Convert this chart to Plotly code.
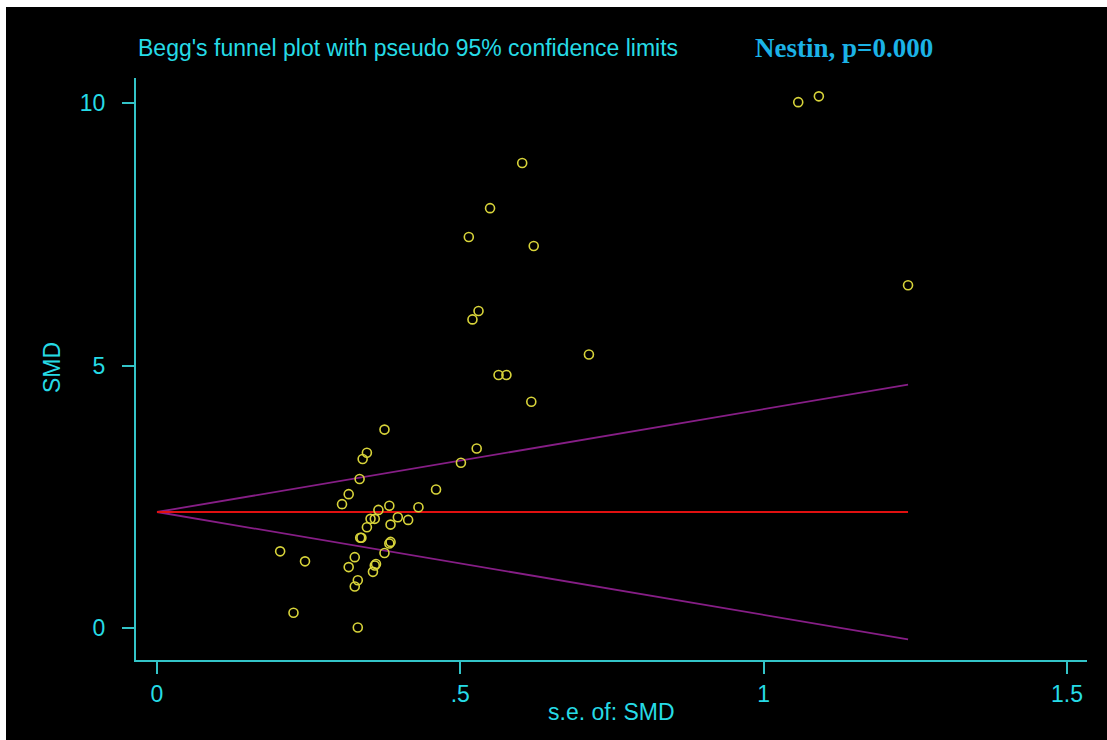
import plotly.graph_objects as go

# ---- data ----
se = [1.057, 1.091, 1.238, 0.602, 0.549, 0.514, 0.621, 0.530, 0.520, 0.712,
      0.563, 0.576, 0.617,
      0.375, 0.346, 0.339, 0.527, 0.501, 0.334, 0.460, 0.316, 0.305, 0.365,
      0.383, 0.431, 0.352, 0.359, 0.397, 0.414, 0.385, 0.346, 0.335, 0.337,
      0.385, 0.383, 0.203, 0.375, 0.244, 0.326, 0.316, 0.361, 0.359, 0.356,
      0.331, 0.326, 0.225, 0.331]
smd = [10.02, 10.13, 6.53, 8.86, 8.00, 7.45, 7.28, 6.04, 5.88, 5.21,
       4.82, 4.82, 4.31,
       3.78, 3.34, 3.22, 3.42, 3.15, 2.84, 2.64, 2.55, 2.36, 2.25,
       2.33, 2.30, 2.08, 2.08, 2.11, 2.06, 1.97, 1.92, 1.72, 1.72,
       1.64, 1.61, 1.46, 1.43, 1.27, 1.35, 1.16, 1.22, 1.19, 1.07,
       0.91, 0.79, 0.29, 0.01]
pooled_smd = 2.21
z95 = 1.96

x_tick_vals = [0, 0.5, 1, 1.5]
x_tick_text = ["0", ".5", "1", "1.5"]
y_tick_vals = [0, 5, 10]
y_tick_text = ["0", "5", "10"]

title_text = "Begg's funnel plot with pseudo 95% confidence limits"
note_text = "Nestin, p=0.000"
x_title = "s.e. of: SMD"
y_title = "SMD"

# ---- styling ----
W, H = 1107, 740
L, R, T, B = 136, 20, 78, 80
CYAN = "#26dbe6"
AXIS = "#33c4c8"
NOTE = "#1bb2e6"
YELLOW = "#d8d43a"
PURPLE = "#861e86"
RED = "#e01010"
FONT = "Liberation Sans, Arial, sans-serif"

pw, ph = W - L - R, H - T - B


def px_x(p):
    return (p - L) / pw


def px_y(p):
    return (H - B - p) / ph


se_line = [0, max(se)]

fig = go.Figure()
fig.add_trace(go.Scatter(x=se_line, y=[pooled_smd + z95 * s for s in se_line],
                         mode="lines", line=dict(color=PURPLE, width=1.8),
                         hoverinfo="skip"))
fig.add_trace(go.Scatter(x=se_line, y=[pooled_smd - z95 * s for s in se_line],
                         mode="lines", line=dict(color=PURPLE, width=1.8),
                         hoverinfo="skip"))
fig.add_trace(go.Scatter(x=se_line, y=[pooled_smd for s in se_line],
                         mode="lines", line=dict(color=RED, width=1.8),
                         hoverinfo="skip"))
fig.add_trace(go.Scatter(x=se, y=smd, mode="markers",
                         marker=dict(symbol="circle-open", size=9,
                                     color=YELLOW, line=dict(width=1.6, color=YELLOW))))

fig.update_layout(
    width=W, height=H,
    margin=dict(l=L, r=R, t=T, b=B, pad=0),
    paper_bgcolor="black",
    plot_bgcolor="black",
    showlegend=False,
    font=dict(family=FONT, color=CYAN, size=23),
    shapes=[
        # thin white frame strips at the top and left edges of the picture
        dict(type="rect", xref="paper", yref="paper",
             x0=px_x(-10), x1=px_x(W + 10), y0=px_y(7), y1=px_y(-10),
             fillcolor="white", line=dict(width=0), layer="below"),
        dict(type="rect", xref="paper", yref="paper",
             x0=px_x(-10), x1=px_x(6), y0=px_y(H + 10), y1=px_y(-10),
             fillcolor="white", line=dict(width=0), layer="below"),
    ],
    annotations=[
        dict(text=title_text, xref="paper", yref="paper", x=px_x(136), y=px_y(48),
             xanchor="left", yanchor="middle", showarrow=False,
             font=dict(family=FONT, size=23, color=CYAN)),
        dict(text="<b>" + note_text + "</b>", xref="paper", yref="paper",
             x=px_x(844), y=px_y(48), xanchor="center", yanchor="middle",
             showarrow=False,
             font=dict(family="Liberation Serif, Times New Roman, serif", size=27, color=NOTE)),
        dict(text=x_title, xref="paper", yref="paper", x=px_x(611), y=px_y(712),
             xanchor="center", yanchor="middle", showarrow=False,
             font=dict(family=FONT, size=23, color=CYAN)),
        dict(text=y_title, xref="paper", yref="paper", x=px_x(52), y=px_y(368),
             xanchor="center", yanchor="middle", showarrow=False, textangle=-90,
             font=dict(family=FONT, size=23, color=CYAN)),
    ],
)

fig.update_xaxes(range=[-0.0346, 1.533], tickvals=x_tick_vals, ticktext=x_tick_text,
                 showgrid=False, zeroline=False, showline=True, linecolor=AXIS,
                 linewidth=2, mirror=False, ticks="outside", ticklen=12, tickwidth=2,
                 tickcolor=AXIS, tickfont=dict(family=FONT, size=23, color=CYAN))
fig.update_yaxes(range=[-0.61, 10.48], tickvals=y_tick_vals, ticktext=y_tick_text,
                 showgrid=False, zeroline=False, showline=True, linecolor=AXIS,
                 linewidth=2, mirror=False, ticks="outside", ticklen=12, tickwidth=2,
                 tickcolor=AXIS, tickfont=dict(family=FONT, size=23, color=CYAN),
                 ticklabelstandoff=12)

fig.write_html("out.html", config={"displayModeBar": False},
               post_script="document.body.style.margin='0';document.body.style.overflow='hidden';document.documentElement.style.background='black';document.body.style.background='black';")
